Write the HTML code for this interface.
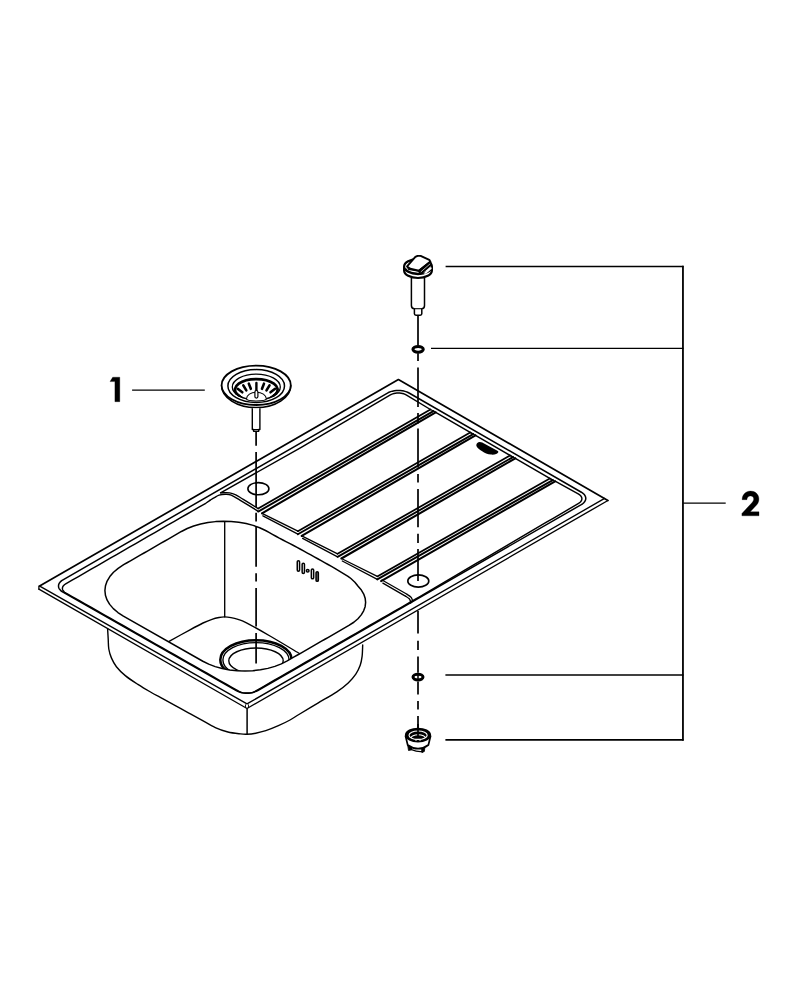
<!DOCTYPE html>
<html><head><meta charset="utf-8"><title>Sink exploded view</title><style>
html,body{margin:0;padding:0;background:#fff;}
body{width:792px;height:1000px;overflow:hidden;font-family:"Liberation Sans",sans-serif;}
svg{display:block;}
</style></head><body>
<svg width="792" height="1000" viewBox="0 0 792 1000">
<rect width="792" height="1000" fill="#fff"/>
<path d="M39.60,586.10 L398.40,379.60 L607.90,500.50" fill="none" stroke="#000" stroke-width="1.7" stroke-linejoin="round" stroke-linecap="round" stroke-linejoin="miter"/>
<path d="M40.20,586.30 L247.00,703.90 L604.60,498.40" fill="none" stroke="#000" stroke-width="1.35" stroke-linejoin="round" stroke-linecap="round" />
<path d="M38.90,589.20 L247.00,708.50 L607.90,500.50" fill="none" stroke="#000" stroke-width="1.35" stroke-linejoin="round" stroke-linecap="round" />
<path d="M38.90,586.10 L38.90,589.20" fill="none" stroke="#000" stroke-width="1.3" stroke-linejoin="round" stroke-linecap="round" />
<path d="M245.50,704.80 L245.50,707.60" fill="none" stroke="#000" stroke-width="0.9" stroke-linejoin="round" stroke-linecap="round" />
<path d="M248.50,704.80 L248.50,707.60" fill="none" stroke="#000" stroke-width="0.9" stroke-linejoin="round" stroke-linecap="round" />
<path d="M62.95,592.16 L61.63,591.31 L60.52,590.36 L59.65,589.34 L59.01,588.26 L58.62,587.14 L58.50,586.00 L58.63,584.86 L59.03,583.73 L59.68,582.65 L60.57,581.61 L61.69,580.66 L63.01,579.79 L387.48,393.06 L388.99,392.29 L390.65,391.65 L392.45,391.14 L394.34,390.76 L396.30,390.53 L398.29,390.45 L400.28,390.52 L402.24,390.74 L404.12,391.10 L405.91,391.60 L407.56,392.24 L409.05,392.99 L581.37,492.24 L582.68,493.10 L583.78,494.05 L584.65,495.08 L585.28,496.17 L585.66,497.29 L585.79,498.43 L585.65,499.58 L585.25,500.70 L584.60,501.79 L583.71,502.82 L582.60,503.77 L581.28,504.63 L257.83,690.52 L256.32,691.28 L254.66,691.92 L252.87,692.43 L250.98,692.81 L249.02,693.04 L247.02,693.12 L245.03,693.05 L243.07,692.84 L241.18,692.48 L239.39,691.98 L237.73,691.35 L236.23,690.61 Z" fill="none" stroke="#000" stroke-width="1.5" stroke-linejoin="round" stroke-linecap="round" />
<path d="M555.10,481.20 L578.67,494.19 L579.62,494.82 L580.42,495.52 L581.06,496.28 L581.53,497.07 L581.80,497.90 L581.89,498.75 L581.79,499.59 L581.50,500.42 L581.03,501.23 L580.38,501.99 L579.56,502.70 L578.60,503.35 L572.25,507.08 L565.91,510.80 L559.56,514.53 L553.21,518.26 L546.87,521.99 L540.52,525.71 L534.17,529.44 L527.83,533.17 L521.48,536.90 L515.13,540.62 L508.79,544.35 L502.44,548.08 L496.10,551.81 L489.75,555.53 L483.40,559.26 L477.06,562.99 L470.71,566.72 L464.36,570.44 L458.02,574.17 L451.67,577.90 L445.32,581.63 L438.98,585.35 L432.63,589.08 L426.28,592.81 L419.94,596.54 L413.59,600.22 L407.24,603.87 L400.90,607.51 L394.55,611.16 L388.20,614.81 L381.86,618.46 L375.51,622.10 L369.16,625.75 L362.82,629.40 L356.47,633.05 L350.12,636.69 L343.78,640.34 L337.43,643.99 L331.08,647.64 L324.74,651.28 L318.39,654.93 L312.04,658.58 L305.70,662.22 L299.35,665.87 L293.00,669.52 L286.66,673.17 L280.31,676.81 L273.96,680.46 L267.62,684.11 L261.27,687.76 L254.93,691.40 L253.83,691.96 L252.61,692.43 L251.30,692.80 L249.92,693.07 L248.49,693.24 L247.03,693.30 L245.57,693.25 L244.14,693.10 L242.76,692.84 L241.45,692.47 L240.24,692.01 L239.14,691.47 L232.72,687.82 L226.29,684.17 L219.87,680.52 L213.44,676.86 L207.02,673.21 L200.59,669.56 L194.17,665.91 L187.74,662.26 L181.32,658.61 L174.89,654.96 L168.46,651.31 L162.04,647.66 L155.61,644.01 L149.19,640.36 L142.76,636.70 L136.34,633.05 L129.91,629.40 L123.49,625.75 L117.06,622.10 L110.64,618.45 L104.21,614.80 L97.79,611.15 L91.36,607.50 L84.93,603.85 L78.51,600.20 L72.08,596.55 L65.66,592.89 L64.70,592.27 L63.89,591.58 L63.25,590.83 L62.78,590.05 L62.50,589.23 L62.41,588.39 L62.51,587.56 L62.80,586.74 L63.27,585.94 L63.92,585.19 L64.74,584.49 L65.70,583.86 L72.07,580.19 L78.44,576.53 L84.80,572.87 L91.17,569.20 L97.53,565.54 L103.90,561.87 L110.27,558.21 L116.63,554.55 L123.00,550.88 L129.36,547.22 L135.73,543.56 L142.10,539.89 L148.46,536.23 L154.83,532.57 L161.19,528.90 L167.56,525.24 L173.93,521.58 L180.29,517.91 L186.66,514.25 L193.02,510.58 L199.39,506.92 L205.76,503.26 L210.00,500.30" fill="none" stroke="#000" stroke-width="1.45" stroke-linejoin="round" stroke-linecap="round" />
<path d="M220.60,492.80 L301.25,447.39 L307.61,443.64 L313.98,439.90 L320.34,436.16 L326.71,432.41 L333.08,428.67 L339.44,424.93 L345.81,421.18 L352.17,417.44 L358.54,413.69 L364.91,409.95 L371.27,406.21 L377.64,402.46 L384.00,398.72 L390.37,394.98 L391.47,394.41 L392.69,393.92 L394.00,393.54 L395.38,393.25 L396.81,393.07 L398.27,393.00 L399.72,393.04 L401.15,393.20 L402.53,393.46 L403.83,393.82 L405.04,394.28 L406.13,394.83 L430.40,409.50" fill="none" stroke="#000" stroke-width="1.45" stroke-linejoin="round" stroke-linecap="round" />
<path d="M123.39,616.09 L117.93,612.55 L113.33,608.62 L109.68,604.38 L107.03,599.90 L105.43,595.24 L104.91,590.51 L105.48,585.76 L107.12,581.09 L109.82,576.58 L113.51,572.30 L118.15,568.32 L123.65,564.72 L127.04,562.76 L130.44,560.81 L133.84,558.85 L137.24,556.90 L140.64,554.94 L144.03,552.99 L147.43,551.03 L150.83,549.08 L154.23,547.12 L157.63,545.17 L161.03,543.21 L164.43,541.25 L167.82,539.30 L171.22,537.34 L174.62,535.39 L178.02,533.43 L181.42,531.47 L187.23,528.54 L193.66,526.05 L200.61,524.04 L207.96,522.56 L215.58,521.62 L223.34,521.25 L231.11,521.45 L238.76,522.21 L246.14,523.53 L253.15,525.37 L259.66,527.72 L265.54,530.52 L268.98,532.43 L272.43,534.33 L275.87,536.23 L279.31,538.14 L282.86,539.98 L286.42,541.81 L289.99,543.65 L293.55,545.48 L297.07,547.34 L300.51,549.24 L303.95,551.15 L307.40,553.05 L310.84,554.95 L314.27,556.86 L317.71,558.77 L321.14,560.67 L324.58,562.58 L328.01,564.49 L331.45,566.39 L334.84,568.33 L338.13,570.32 L341.42,572.31 L344.71,574.30 L348.01,576.29 L350.90,578.50 L354.89,582.19 L358.11,586.22 L361.37,590.02 L363.73,594.04 L365.16,598.20 L365.62,602.44 L365.12,606.68 L363.65,610.85 L361.25,614.88 L357.96,618.70 L353.82,622.25 L348.92,625.46 L345.49,627.43 L342.06,629.40 L338.64,631.37 L335.21,633.34 L331.78,635.31 L328.36,637.28 L324.93,639.25 L321.50,641.22 L318.08,643.19 L314.65,645.16 L311.22,647.13 L307.80,649.09 L304.37,651.06 L300.94,653.03 L297.51,655.00 L294.09,656.97 L290.66,658.94 L287.23,660.91 L281.36,663.88 L274.86,666.38 L267.86,668.38 L260.46,669.85 L252.80,670.75 L245.01,671.07 L237.23,670.81 L229.57,669.97 L222.18,668.57 L215.19,666.62 L208.70,664.17 L202.84,661.25 Z" fill="none" stroke="#000" stroke-width="1.5" stroke-linejoin="round" stroke-linecap="round" />
<clipPath id="bc"><path d="M123.39,616.09 L117.93,612.55 L113.33,608.62 L109.68,604.38 L107.03,599.90 L105.43,595.24 L104.91,590.51 L105.48,585.76 L107.12,581.09 L109.82,576.58 L113.51,572.30 L118.15,568.32 L123.65,564.72 L127.04,562.76 L130.44,560.81 L133.84,558.85 L137.24,556.90 L140.64,554.94 L144.03,552.99 L147.43,551.03 L150.83,549.08 L154.23,547.12 L157.63,545.17 L161.03,543.21 L164.43,541.25 L167.82,539.30 L171.22,537.34 L174.62,535.39 L178.02,533.43 L181.42,531.47 L187.23,528.54 L193.66,526.05 L200.61,524.04 L207.96,522.56 L215.58,521.62 L223.34,521.25 L231.11,521.45 L238.76,522.21 L246.14,523.53 L253.15,525.37 L259.66,527.72 L265.54,530.52 L268.98,532.43 L272.43,534.33 L275.87,536.23 L279.31,538.14 L282.86,539.98 L286.42,541.81 L289.99,543.65 L293.55,545.48 L297.07,547.34 L300.51,549.24 L303.95,551.15 L307.40,553.05 L310.84,554.95 L314.27,556.86 L317.71,558.77 L321.14,560.67 L324.58,562.58 L328.01,564.49 L331.45,566.39 L334.84,568.33 L338.13,570.32 L341.42,572.31 L344.71,574.30 L348.01,576.29 L350.90,578.50 L354.89,582.19 L358.11,586.22 L361.37,590.02 L363.73,594.04 L365.16,598.20 L365.62,602.44 L365.12,606.68 L363.65,610.85 L361.25,614.88 L357.96,618.70 L353.82,622.25 L348.92,625.46 L345.49,627.43 L342.06,629.40 L338.64,631.37 L335.21,633.34 L331.78,635.31 L328.36,637.28 L324.93,639.25 L321.50,641.22 L318.08,643.19 L314.65,645.16 L311.22,647.13 L307.80,649.09 L304.37,651.06 L300.94,653.03 L297.51,655.00 L294.09,656.97 L290.66,658.94 L287.23,660.91 L281.36,663.88 L274.86,666.38 L267.86,668.38 L260.46,669.85 L252.80,670.75 L245.01,671.07 L237.23,670.81 L229.57,669.97 L222.18,668.57 L215.19,666.62 L208.70,664.17 L202.84,661.25 Z"/></clipPath><g clip-path="url(#bc)">
<path d="M224.7,519 L224.7,616.9" fill="none" stroke="#000" stroke-width="1.35" stroke-linejoin="round" stroke-linecap="round" />
<ellipse cx="256" cy="659.8" rx="35.7" ry="19.6" fill="none" stroke="#000" stroke-width="2.5" />
<ellipse cx="256" cy="660.1" rx="33.1" ry="17.5" fill="none" stroke="#000" stroke-width="1.4" />
<ellipse cx="256" cy="660.8" rx="27.2" ry="12.8" fill="none" stroke="#000" stroke-width="1.4" />
<path d="M169.10,641.40 C172.58,639.47 184.35,632.87 190.00,629.80 C195.65,626.73 199.33,624.75 203.00,623.00 C206.67,621.25 209.33,620.22 212.00,619.30 C214.67,618.38 216.90,617.90 219.00,617.50 C221.10,617.10 222.60,616.88 224.60,616.90 C226.60,616.92 228.77,617.18 231.00,617.60 C233.23,618.02 235.50,618.57 238.00,619.40 C240.50,620.23 240.67,619.83 246.00,622.60 C251.33,625.37 261.10,630.85 270.00,636.00 C278.90,641.15 294.50,650.58 299.40,653.50" fill="none" stroke="#000" stroke-width="1.4" stroke-linejoin="round" stroke-linecap="round" />
</g>
<path d="M107.60,628.80 C107.70,630.48 108.00,635.53 108.20,638.90 C108.40,642.27 108.27,645.83 108.80,649.00 C109.33,652.17 110.13,654.95 111.40,657.90 C112.67,660.85 114.08,663.75 116.40,666.70 C118.72,669.65 121.72,672.65 125.30,675.60 C128.88,678.55 133.70,681.67 137.90,684.40 C142.10,687.13 146.30,689.58 150.50,692.00 C154.70,694.42 158.88,696.58 163.10,698.90 C167.32,701.22 171.58,703.58 175.80,705.90 C180.02,708.22 184.15,710.47 188.40,712.80 C192.65,715.13 196.82,717.43 201.30,719.90 C205.78,722.37 210.87,725.58 215.30,727.60 C219.73,729.62 223.70,730.95 227.90,732.00 C232.10,733.05 237.35,733.53 240.50,733.90 C243.65,734.27 244.27,734.32 246.80,734.20 C249.33,734.08 252.53,733.78 255.70,733.20 C258.87,732.62 262.02,731.95 265.80,730.70 C269.58,729.45 274.37,727.48 278.40,725.70 C282.43,723.92 286.58,721.87 290.00,720.00 C293.42,718.13 294.25,717.32 298.90,714.50 C303.55,711.68 311.58,706.88 317.90,703.10 C324.22,699.32 331.75,695.17 336.80,691.80 C341.85,688.43 345.03,685.85 348.20,682.90 C351.37,679.95 353.80,677.03 355.80,674.10 C357.80,671.17 359.15,668.25 360.20,665.30 C361.25,662.35 361.68,659.78 362.10,656.40 C362.52,653.02 362.60,646.90 362.70,645.00" fill="none" stroke="#000" stroke-width="1.4" stroke-linejoin="round" stroke-linecap="round" />
<path d="M247.1,709 L247.1,734.2" fill="none" stroke="#000" stroke-width="1.5" stroke-linejoin="round" stroke-linecap="round" />
<path d="M258.20,508.60 L430.40,409.50" fill="none" stroke="#000" stroke-width="1.75" stroke-linejoin="round" stroke-linecap="round" />
<path d="M258.20,511.60 L433.40,411.07" fill="none" stroke="#000" stroke-width="1.9" stroke-linejoin="round" stroke-linecap="round" />
<path d="M262.00,513.30 L297.90,531.20" fill="none" stroke="#000" stroke-width="1.3" stroke-linejoin="round" stroke-linecap="round" />
<path d="M262.90,515.80 L297.90,534.20" fill="none" stroke="#000" stroke-width="1.3" stroke-linejoin="round" stroke-linecap="round" />
<path d="M262.00,513.30 L435.70,412.30" fill="none" stroke="#000" stroke-width="2.05" stroke-linejoin="round" stroke-linecap="round" />
<path d="M435.70,412.30 L473.20,434.07" fill="none" stroke="#000" stroke-width="1.5" stroke-linejoin="round" stroke-linecap="round" />
<path d="M430.40,409.50 L435.30,412.00" fill="none" stroke="#000" stroke-width="1.3" stroke-linejoin="round" stroke-linecap="round" />
<path d="M297.90,531.20 L470.20,432.50" fill="none" stroke="#000" stroke-width="1.75" stroke-linejoin="round" stroke-linecap="round" />
<path d="M297.90,534.20 L473.20,434.07" fill="none" stroke="#000" stroke-width="1.9" stroke-linejoin="round" stroke-linecap="round" />
<path d="M301.70,535.90 L337.60,553.80" fill="none" stroke="#000" stroke-width="1.3" stroke-linejoin="round" stroke-linecap="round" />
<path d="M302.60,538.40 L337.60,556.80" fill="none" stroke="#000" stroke-width="1.3" stroke-linejoin="round" stroke-linecap="round" />
<path d="M301.70,535.90 L475.50,435.30" fill="none" stroke="#000" stroke-width="2.05" stroke-linejoin="round" stroke-linecap="round" />
<path d="M475.50,435.30 L513.00,457.07" fill="none" stroke="#000" stroke-width="1.5" stroke-linejoin="round" stroke-linecap="round" />
<path d="M470.20,432.50 L475.10,435.00" fill="none" stroke="#000" stroke-width="1.3" stroke-linejoin="round" stroke-linecap="round" />
<path d="M337.60,553.80 L510.00,455.50" fill="none" stroke="#000" stroke-width="1.75" stroke-linejoin="round" stroke-linecap="round" />
<path d="M337.60,556.80 L513.00,457.07" fill="none" stroke="#000" stroke-width="1.9" stroke-linejoin="round" stroke-linecap="round" />
<path d="M341.40,558.50 L377.30,576.40" fill="none" stroke="#000" stroke-width="1.3" stroke-linejoin="round" stroke-linecap="round" />
<path d="M342.30,561.00 L377.30,579.40" fill="none" stroke="#000" stroke-width="1.3" stroke-linejoin="round" stroke-linecap="round" />
<path d="M341.40,558.50 L515.30,458.30" fill="none" stroke="#000" stroke-width="2.05" stroke-linejoin="round" stroke-linecap="round" />
<path d="M515.30,458.30 L552.80,480.07" fill="none" stroke="#000" stroke-width="1.5" stroke-linejoin="round" stroke-linecap="round" />
<path d="M510.00,455.50 L514.90,458.00" fill="none" stroke="#000" stroke-width="1.3" stroke-linejoin="round" stroke-linecap="round" />
<path d="M377.30,576.40 L549.80,478.50" fill="none" stroke="#000" stroke-width="1.75" stroke-linejoin="round" stroke-linecap="round" />
<path d="M377.30,579.40 L552.80,480.07" fill="none" stroke="#000" stroke-width="1.9" stroke-linejoin="round" stroke-linecap="round" />
<path d="M381.10,581.10 L555.10,481.30" fill="none" stroke="#000" stroke-width="2.05" stroke-linejoin="round" stroke-linecap="round" />
<path d="M549.80,478.50 L554.70,481.00" fill="none" stroke="#000" stroke-width="1.3" stroke-linejoin="round" stroke-linecap="round" />
<path d="M210.00,500.30 C210.75,499.85 212.98,498.45 214.50,497.60 C216.02,496.75 217.32,495.75 219.10,495.20 C220.88,494.65 223.18,494.32 225.20,494.30 C227.22,494.28 228.68,494.10 231.20,495.10 C233.72,496.10 235.80,497.60 240.30,500.30 C244.80,503.00 255.22,509.47 258.20,511.30" fill="none" stroke="#000" stroke-width="1.4" stroke-linejoin="round" stroke-linecap="round" />
<path d="M220.60,492.80 C222.12,492.80 227.17,492.47 229.70,492.80 C232.23,493.13 233.53,493.70 235.80,494.80 C238.07,495.90 239.57,497.10 243.30,499.40 C247.03,501.70 255.72,507.07 258.20,508.60" fill="none" stroke="#000" stroke-width="1.3" stroke-linejoin="round" stroke-linecap="round" />
<path d="M382.90,583.20 L405.80,596.30" fill="none" stroke="#000" stroke-width="1.35" stroke-linejoin="round" stroke-linecap="round" />
<path d="M405.80,596.30 C406.33,596.68 408.25,597.85 409.00,598.60 C409.75,599.35 410.02,600.03 410.30,600.80 C410.58,601.57 410.63,602.80 410.70,603.20" fill="none" stroke="#000" stroke-width="1.35" stroke-linejoin="round" stroke-linecap="round" />
<path d="M382.00,580.00 L407.00,594.30" fill="none" stroke="#000" stroke-width="1.3" stroke-linejoin="round" stroke-linecap="round" />
<path d="M407.00,594.30 C407.63,594.75 409.93,596.15 410.80,597.00 C411.67,597.85 411.90,598.63 412.20,599.40 C412.50,600.17 412.53,601.23 412.60,601.60" fill="none" stroke="#000" stroke-width="1.3" stroke-linejoin="round" stroke-linecap="round" />
<ellipse cx="258.4" cy="488.7" rx="10.5" ry="6.1" fill="none" stroke="#000" stroke-width="1.6"/>
<ellipse cx="418.3" cy="581.0" rx="10.5" ry="6.1" fill="none" stroke="#000" stroke-width="1.6"/>
<path d="M476.3,445.4 C476.3,443.5 478,442.0 479.8,442.1 C481.5,442.2 483,442.9 485,444 L496.5,450.2 C498,451 498.6,451.6 498.3,452.3 C497.5,454.0 494.5,454.9 491.2,454.6 C487.5,454.2 484.5,452.8 482.2,451.2 C479.5,449.4 476.5,447.5 476.3,445.4 Z" fill="#000"/>
<rect x="297.25" y="560.70" width="2.30" height="10.50" rx="1.15" fill="none" stroke="#000" stroke-width="1.5"/>
<rect x="302.15" y="563.20" width="2.30" height="10.20" rx="1.15" fill="none" stroke="#000" stroke-width="1.5"/>
<rect x="311.35" y="568.90" width="2.30" height="9.90" rx="1.15" fill="none" stroke="#000" stroke-width="1.5"/>
<rect x="316.05" y="571.70" width="2.30" height="9.60" rx="1.15" fill="#777" stroke="#000" stroke-width="1.5"/>
<circle cx="307.7" cy="570.8" r="1.3" fill="none" stroke="#000" stroke-width="1.5"/>
<path d="M256.1,431.3 L256.1,445.8 M256.1,452.1 L256.1,507.0 M256.1,512.8 L256.1,521.6 M256.1,526.0 L256.1,566.7 M256.1,573.2 L256.1,581.6 M256.1,588.1 L256.1,626.5 M256.1,633.0 L256.1,663.5" fill="none" stroke="#000" stroke-width="1.7"/>
<path d="M418.0,315.0 L418.0,345.5 M418.0,353.3 L418.0,361.1 M418.0,367.6 L418.0,406.9 M418.0,413.1 L418.0,423.5 M418.0,428.5 L418.0,467.5 M418.0,474.0 L418.0,482.4 M418.0,488.9 L418.0,527.3 M418.0,533.8 L418.0,542.9 M418.0,549.1 L418.0,581.0 M418.0,610.9 L418.0,633.6 M418.0,640.8 L418.0,649.9 M418.0,656.4 L418.0,672.8 M418.0,681.4 L418.0,694.6 M418.0,701.0 L418.0,709.6 M418.0,716.0 L418.0,733.0" fill="none" stroke="#000" stroke-width="1.7"/>
<path d="M132.1,390.2 L204.8,390.2" fill="none" stroke="#000" stroke-width="1.3"/>
<path d="M445.6,266.4 L683.5,266.4" fill="none" stroke="#000" stroke-width="1.5"/>
<path d="M431.0,348.4 L683.5,348.4" fill="none" stroke="#000" stroke-width="1.4"/>
<path d="M445.4,675.0 L683.5,675.0" fill="none" stroke="#000" stroke-width="1.5"/>
<path d="M445.4,739.9 L683.5,739.9" fill="none" stroke="#000" stroke-width="1.7"/>
<path d="M682.95,265.7 L682.95,740.65" fill="none" stroke="#000" stroke-width="1.8"/>
<path d="M683.2,503.1 L725.7,503.1" fill="none" stroke="#000" stroke-width="1.4"/>
<path d="M112.7,377.2 L119.8,377.2 L119.8,401.7 L114.9,401.7 L114.9,381.6 L110.0,381.6 Z" fill="#000" stroke="#000" stroke-width="0.3"/>
<path d="M742.1,499.7 L746.9,499.7 C747.1,497.5 748.4,495.9 750.4,495.9 C752.4,495.9 753.7,497.2 753.7,498.9 C753.7,500.4 752.9,501.6 751.7,503.0 L741.9,513.4 L741.9,515.8 L759.0,515.8 L759.0,511.8 L750.3,511.8 L756.6,505.0 C758.2,503.2 758.9,501.2 758.9,498.9 C758.9,494.5 755.4,491.1 750.5,491.1 C745.6,491.1 742.3,494.6 742.1,499.7 Z" fill="#000" stroke="#000" stroke-width="0.3"/>
<ellipse cx="418.1" cy="349.3" rx="5.2" ry="2.85" fill="#fff" stroke="#000" stroke-width="3.0"/>
<ellipse cx="418.0" cy="677.1" rx="5.0" ry="2.85" fill="#fff" stroke="#000" stroke-width="3.0"/><path d="M418,674 L418,680.5" stroke="#000" stroke-width="1.5"/>
<g fill="none" stroke="#000">
<path d="M221.6,385.3 A34.6,22.4 0 0 0 290.8,385.3" stroke-width="1.7"/>
<ellipse cx="256.2" cy="385.3" rx="34.6" ry="19.7" fill="#fff" stroke-width="1.8"/>
<ellipse cx="256.2" cy="386.0" rx="28.3" ry="16.4" stroke-width="1.5"/>
<ellipse cx="256.3" cy="387.0" rx="24.0" ry="12.9" stroke-width="1.3"/>
<path d="M236.4,393.5 A21.3,10.6 0 1 1 276.2,393.5" stroke-width="2.7" stroke-linecap="round"/>
<path d="M235.7,391.8 L242.7,397.5 L237.7,395.8 Z" fill="#000" stroke-width="1"/>
<path d="M276.9,391.8 L269.9,397.5 L274.9,395.8 Z" fill="#000" stroke-width="1"/>
</g>
<path d="M237.70,388.80 L242.30,392.30" stroke="#000" stroke-width="2.6" stroke-linecap="round" fill="none"/>
<path d="M275.10,388.80 L270.50,392.30" stroke="#000" stroke-width="2.6" stroke-linecap="round" fill="none"/>
<path d="M243.30,385.30 L246.30,390.30" stroke="#000" stroke-width="2.6" stroke-linecap="round" fill="none"/>
<path d="M269.50,385.30 L266.50,390.30" stroke="#000" stroke-width="2.6" stroke-linecap="round" fill="none"/>
<path d="M248.80,383.60 L250.80,388.80" stroke="#000" stroke-width="2.6" stroke-linecap="round" fill="none"/>
<path d="M264.00,383.60 L262.00,388.80" stroke="#000" stroke-width="2.6" stroke-linecap="round" fill="none"/>
<path d="M246.5,398.8 A9.9,6.6 0 0 1 266.3,398.8 A9.9,2.2 0 0 1 246.5,398.8 Z" fill="#fff" stroke="#000" stroke-width="1.1"/>
<path d="M256.4,382.9 L256.4,392" stroke="#000" stroke-width="2.4" stroke-linecap="round" fill="none"/>
<rect x="254.9" y="390.5" width="3.0" height="7.6" rx="1.5" fill="#fff" stroke="#000" stroke-width="1.2"/>
<path d="M252.3,408.3 L252.3,429.5 L253.6,429.5 L253.6,431.3 L258.7,431.3 L258.7,429.5 L259.9,429.5 L259.9,408.3" fill="#fff" stroke="#000" stroke-width="1.4" stroke-linejoin="round"/>
<path d="M252.3,429.5 L259.9,429.5" stroke="#000" stroke-width="1.0"/>
<path d="M411.4,277.5 L411.4,305.5 Q411.4,308.7 414.4,308.7 L414.4,313.8 Q414.4,315.2 416.0,315.2 L420.2,315.2 Q421.8,315.2 421.8,313.8 L421.8,308.7 Q424.5,308.7 424.5,305.5 L424.5,277.5" fill="#fff" stroke="#000" stroke-width="1.5" stroke-linejoin="round"/>
<path d="M414.4,308.7 L421.8,308.7" stroke="#000" stroke-width="1.1" fill="none"/>
<path d="M404.1,266.6 L404.1,270.4 A13.9,7.6 0 0 0 431.9,270.4 L431.9,266.6" fill="#fff" stroke="#000" stroke-width="2.2"/>
<ellipse cx="418.0" cy="266.6" rx="13.9" ry="7.5" fill="#fff" stroke="#000" stroke-width="2.2"/>
<path d="M405.6,268.6 A12.4,6.0 0 0 0 419,273.2" fill="none" stroke="#000" stroke-width="1.1"/>
<path d="M407.07,266.46 L415.35,256.97 L417.58,255.86 L420.61,255.86 L429.29,259.80 L430.30,261.62 L418.89,270.71 L410.30,268.69 Z" fill="#fff" stroke="#000" stroke-width="1.9" stroke-linejoin="round"/>
<path d="M418.89,270.71 L430.30,261.62 L431.11,264.85 L420.40,274.14 Z" fill="#000" stroke="#000" stroke-width="1.8" stroke-linejoin="round"/>
<path d="M420.81,271.92 L430.10,263.84" fill="none" stroke="#fff" stroke-width="0.7"/>
<path d="M407.07,266.46 L408.79,269.49 L418.89,271.11" fill="none" stroke="#000" stroke-width="1.3"/>
<path d="M423.43,273.54 L431.11,267.07 L431.72,268.79 L425.96,273.84 Z" fill="#fff" stroke="none"/>
<g fill="none" stroke="#000">
<path d="M407.6,744.8 L411.8,746.6 L411.5,749.9 L408.5,750.5 Z" fill="#000" stroke-width="0.8"/>
<path d="M421.6,748.2 L425.0,746.4 L424.4,751.4 L421.9,752.7 Z" fill="#000" stroke-width="0.8"/>
<path d="M411.5,747.5 L411.5,749.6 Q417,752.0 421.9,751.6 L421.8,749.0" fill="#fff" stroke-width="1.2"/>
<path d="M405.4,735.5 L407.7,745.0 Q418.0,752.4 428.4,745.0 L430.7,735.5" fill="#fff" stroke-width="1.7"/>
<ellipse cx="418.0" cy="735.1" rx="11.7" ry="6.0" fill="#000" stroke-width="2.8"/>
<ellipse cx="418.1" cy="735.2" rx="9.1" ry="4.2" stroke="#fff" stroke-width="1.1"/>
<path d="M411.0,738.0 A7.2,3.3 0 0 1 425.4,738.0" stroke="#fff" stroke-width="1.1"/>
<circle cx="416.0" cy="740.0" r="0.8" fill="#fff" stroke="none"/><circle cx="420.0" cy="740.0" r="0.8" fill="#fff" stroke="none"/>
</g>
<path d="M418.0,724.0 L418.0,737.5" fill="none" stroke="#000" stroke-width="1.7"/>
</svg>
</body></html>
